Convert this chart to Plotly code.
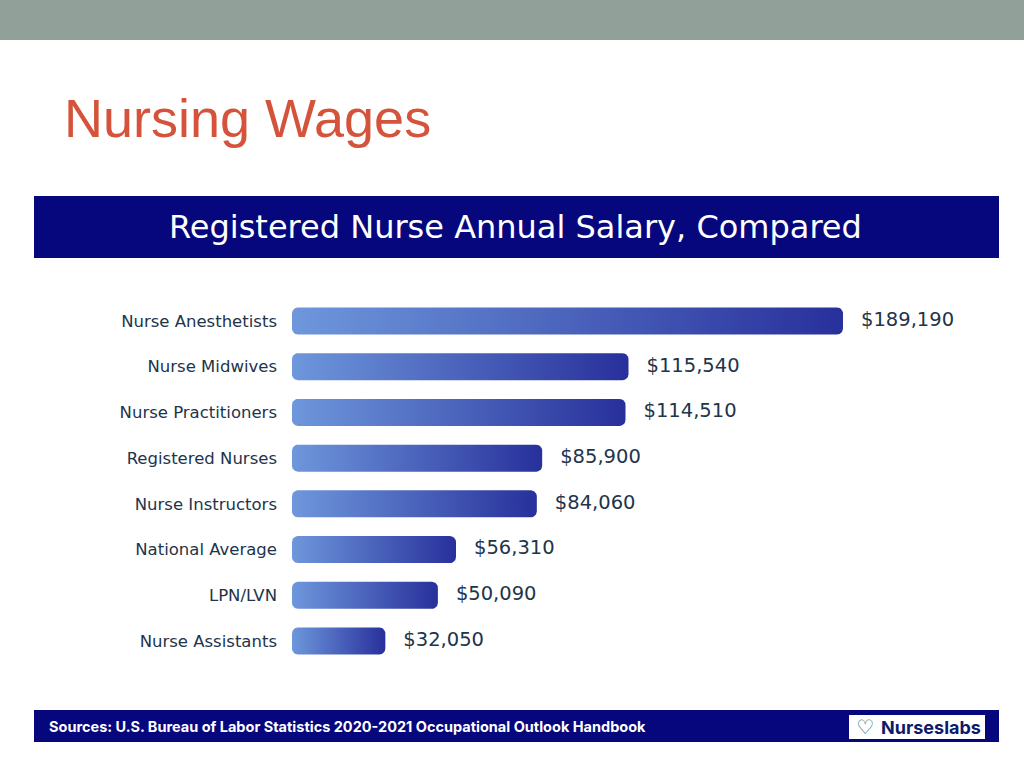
import numpy as np
import plotly.graph_objects as go

# ---- data ----
categories = ["Nurse Anesthetists", "Nurse Midwives", "Nurse Practitioners",
              "Registered Nurses", "Nurse Instructors", "National Average",
              "LPN/LVN", "Nurse Assistants"]
salaries = [189190, 115540, 114510, 85900, 84060, 56310, 50090, 32050]
value_labels = ["$189,190", "$115,540", "$114,510", "$85,900", "$84,060",
                "$56,310", "$50,090", "$32,050"]

title_text = "Nursing Wages"
header_text = "Registered Nurse Annual Salary, Compared"
source_text = "Sources: U.S. Bureau of Labor Statistics 2020-2021 Occupational Outlook Handbook"
logo_text = "Nurseslabs"

# ---- layout constants (pixels) ----
W, H = 1024, 768
X0_PX = 292            # left edge of bars
DOLLARS_PER_PX = 189190 / 551.0
Y_TOP_PX, Y_STEP_PX = 321, 320 / 7.0
BAR_HALF_PX = 13.5
RADIUS_PX = 6
LABEL_GAP_PX = 18

NAVY = "#07077D"
GRAD = [[0, "#6E97DC"], [1, "#28309B"]]
TEXT_DARK = "#22344A"
WIDE_FONT = "DejaVu Sans"

def py(px):
    return 1 - px / H

def pxx(px):
    return px / W

n = len(categories)
x_max = (W - X0_PX) * DOLLARS_PER_PX
y_dom = [py(Y_TOP_PX + Y_STEP_PX * (n - 1) + Y_STEP_PX / 2), py(Y_TOP_PX - Y_STEP_PX / 2)]

def rounded_rect(x1, yc, hh, rx, ry, steps=8):
    xs, ys = [], []
    corners = [
        (x1 - rx, yc - hh + ry, -90, 0),
        (x1 - rx, yc + hh - ry, 0, 90),
        (rx, yc + hh - ry, 90, 180),
        (rx, yc - hh + ry, 180, 270),
    ]
    for cx, cy, a0, a1 in corners:
        for a in np.linspace(np.radians(a0), np.radians(a1), steps):
            xs.append(cx + rx * np.cos(a))
            ys.append(cy + ry * np.sin(a))
    xs.append(xs[0]); ys.append(ys[0])
    return xs, ys

fig = go.Figure()
hh = BAR_HALF_PX / Y_STEP_PX
ry = RADIUS_PX / Y_STEP_PX
rx = RADIUS_PX * DOLLARS_PER_PX
for i, (cat, v) in enumerate(zip(categories, salaries)):
    xs, ys = rounded_rect(v, i, hh, rx, ry)
    fig.add_trace(go.Scatter(
        x=xs, y=ys, fill="toself", mode="lines", line=dict(width=0),
        fillgradient=dict(type="horizontal", colorscale=GRAD),
        hoverinfo="skip", showlegend=False))

fig.add_trace(go.Scatter(
    x=[v + LABEL_GAP_PX * DOLLARS_PER_PX for v in salaries], y=list(range(n)),
    mode="text", text=value_labels, textposition="middle right",
    textfont=dict(family=WIDE_FONT, size=19.5, color=TEXT_DARK),
    showlegend=False, hoverinfo="skip", cliponaxis=False))

shapes = [
    dict(type="rect", xref="paper", yref="paper", x0=0, x1=1, y0=py(40), y1=1,
         fillcolor="#91A098", line=dict(width=0), layer="below"),
    dict(type="rect", xref="paper", yref="paper", x0=pxx(34), x1=pxx(999),
         y0=py(258), y1=py(196), fillcolor=NAVY, line=dict(width=0), layer="below"),
    dict(type="rect", xref="paper", yref="paper", x0=pxx(34), x1=pxx(999),
         y0=py(742), y1=py(710), fillcolor=NAVY, line=dict(width=0), layer="below"),
    dict(type="rect", xref="paper", yref="paper", x0=pxx(849), x1=pxx(985),
         y0=py(739), y1=py(715), fillcolor="white", line=dict(width=0), layer="above"),
]

annotations = [
    dict(text=title_text, x=pxx(62), y=py(118), xref="paper", yref="paper",
         xanchor="left", yanchor="middle", showarrow=False,
         font=dict(family="Liberation Sans", size=54, color="#D5533A")),
    dict(text=header_text, x=pxx(515), y=py(227), xref="paper", yref="paper",
         xanchor="center", yanchor="middle", showarrow=False,
         font=dict(family=WIDE_FONT, size=32, color="white")),
    dict(text="<b>" + source_text + "</b>", x=pxx(47), y=py(726), xref="paper", yref="paper",
         xanchor="left", yanchor="middle", showarrow=False,
         font=dict(family="Inter", size=14.5, color="white")),
    dict(text="<b>♡</b>", x=pxx(865), y=py(727), xref="paper", yref="paper",
         xanchor="center", yanchor="middle", showarrow=False,
         font=dict(family="DejaVu Sans", size=20, color="#1F6F78")),
    dict(text="<b>" + logo_text + "</b>", x=pxx(879), y=py(727), xref="paper", yref="paper",
         xanchor="left", yanchor="middle", showarrow=False,
         font=dict(family="Inter", size=18, color="#0E1A6B")),
]

fig.update_layout(
    width=W, height=H, margin=dict(l=0, r=0, t=0, b=0),
    paper_bgcolor="white", plot_bgcolor="white",
    shapes=shapes, annotations=annotations,
    xaxis=dict(domain=[pxx(X0_PX), 1], range=[0, x_max], visible=False, fixedrange=True),
    yaxis=dict(domain=y_dom, range=[n - 0.5, -0.5], tickvals=list(range(n)),
               ticktext=categories, showgrid=False, zeroline=False, showline=False,
               ticks="", ticklabelstandoff=14,
               tickfont=dict(family=WIDE_FONT, size=16.5, color=TEXT_DARK), fixedrange=True),
)

fig.write_html("out.html", config={"displayModeBar": False},
               post_script="document.body.style.margin='0';")
